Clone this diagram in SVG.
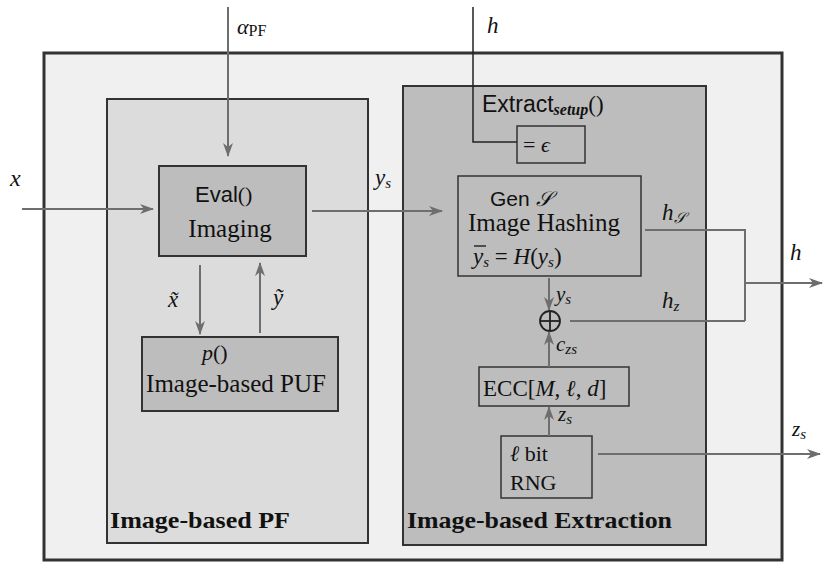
<svg xmlns="http://www.w3.org/2000/svg" width="823" height="562" viewBox="0 0 823 562">
<style>
.box{stroke:#333;stroke-width:2}
.sm{fill:none;stroke:#333;stroke-width:1.5}
.ln{fill:none;stroke:#6e6e6e;stroke-width:2}
.serif{font-family:"Liberation Serif",serif;fill:#111}
.sans{font-family:"Liberation Sans",sans-serif;fill:#111}
.math{font-family:"Liberation Serif",serif;font-style:italic;fill:#111}
.bold{font-family:"Liberation Serif",serif;font-weight:bold;fill:#111}
</style>
<defs>
<marker id="ar" viewBox="0 0 14 10" markerWidth="14" markerHeight="10" refX="13" refY="5" orient="auto" markerUnits="userSpaceOnUse">
<path d="M0,0 L14,5 L0,10 L4,5 z" fill="#6e6e6e"/>
</marker>
</defs>
<rect width="823" height="562" fill="#ffffff"/>
<g id="outer"><rect x="44" y="53" width="738" height="507" fill="#f0f0f0" stroke="#333" stroke-width="3"/></g>
<g id="pf">
<rect class="box" x="107" y="99" width="261" height="444" fill="#dcdcdc"/>
<text class="bold" x="110" y="528" font-size="24" textLength="180" lengthAdjust="spacingAndGlyphs">Image-based PF</text>
</g>
<g id="extraction">
<rect class="box" x="403" y="86" width="303" height="459" fill="#bdbdbd"/>
<text class="sans" x="482" y="112" font-size="23">Extract<tspan class="math" font-size="16" font-weight="bold" dy="3">setup</tspan><tspan class="serif" font-size="23" dy="-3">()</tspan></text>
<text class="bold" x="407" y="528" font-size="24" textLength="265" lengthAdjust="spacingAndGlyphs">Image-based Extraction</text>
</g>
<g id="eval">
<rect class="box" x="159" y="166" width="147" height="90" fill="#bdbdbd"/>
<text class="sans" x="195" y="202" font-size="22">Eval<tspan class="serif">()</tspan></text>
<text class="serif" x="230" y="237" font-size="25" text-anchor="middle">Imaging</text>
</g>
<g id="puf">
<rect class="box" x="142" y="337" width="196" height="74" fill="#bdbdbd"/>
<text class="math" x="202" y="360" font-size="22">p<tspan class="serif" font-style="normal">()</tspan></text>
<text class="serif" x="236" y="392" font-size="25" text-anchor="middle">Image-based PUF</text>
</g>
<g id="eps">
<rect class="sm" x="517" y="126" width="68" height="37" fill="#bdbdbd"/>
<text class="serif" x="523" y="152" font-size="22">= <tspan class="math">ϵ</tspan></text>
</g>
<g id="gen">
<rect class="sm" x="458" y="176" width="183" height="100" fill="#bdbdbd"/>
<text class="sans" x="490" y="206" font-size="21">Gen <tspan class="math" font-family="DejaVu Serif" font-size="21">𝒮</tspan></text>
<text class="serif" x="544" y="231" font-size="25" text-anchor="middle">Image Hashing</text>
<text class="math" x="473" y="264" font-size="23">y<tspan font-size="15" dy="3">s</tspan><tspan class="serif" font-style="normal" dy="-3"> = </tspan>H<tspan class="serif" font-style="normal">(</tspan>y<tspan font-size="15" dy="3">s</tspan><tspan class="serif" font-style="normal" dy="-3">)</tspan></text>
<line x1="474" y1="246" x2="486" y2="246" stroke="#111" stroke-width="1.3"/>
</g>
<g id="xor">
<circle cx="550" cy="321" r="10" fill="none" stroke="#222" stroke-width="1.8"/>
<line x1="540" y1="321" x2="560" y2="321" stroke="#222" stroke-width="1.8"/>
<line x1="550" y1="311" x2="550" y2="331" stroke="#222" stroke-width="1.8"/>
</g>
<g id="ecc">
<rect class="sm" x="479" y="367" width="150" height="39" fill="#bdbdbd"/>
<text class="serif" x="483" y="396" font-size="23">ECC[<tspan class="math">M</tspan>, <tspan class="math">ℓ</tspan>, <tspan class="math">d</tspan>]</text>
</g>
<g id="rng">
<rect class="sm" x="501" y="436" width="91" height="62" fill="#bdbdbd"/>
<text class="serif" x="510" y="461" font-size="22"><tspan class="math">ℓ</tspan> bit</text>
<text class="serif" x="510" y="490" font-size="22">RNG</text>
</g>
<g id="connectors">
<line class="ln" x1="22" y1="209" x2="153" y2="209" marker-end="url(#ar)"/>
<line class="ln" x1="228" y1="7" x2="228" y2="156" marker-end="url(#ar)"/>
<line class="ln" x1="312" y1="211" x2="442" y2="211" stroke-width="3" marker-end="url(#ar)"/>
<line class="ln" x1="200" y1="265" x2="200" y2="334" stroke-width="3" marker-end="url(#ar)"/>
<line class="ln" x1="260" y1="333" x2="260" y2="263" marker-end="url(#ar)"/>
<path d="M473,7 V142 H517" fill="none" stroke="#222" stroke-width="1.5"/>
<line class="ln" x1="549" y1="278" x2="549" y2="310" marker-end="url(#ar)"/>
<line class="ln" x1="549" y1="367" x2="549" y2="332" marker-end="url(#ar)"/>
<line class="ln" x1="549" y1="436" x2="549" y2="407" marker-end="url(#ar)"/>
<path class="ln" d="M645,230 H745 V321"/>
<path class="ln" d="M570,321 H745"/>
<line class="ln" x1="745" y1="283" x2="822" y2="283" marker-end="url(#ar)"/>
<line class="ln" x1="598" y1="454" x2="820" y2="454" marker-end="url(#ar)"/>
</g>
<g id="labels">
<text class="math" x="10" y="186" font-size="24">x</text>
<text class="math" x="237" y="34" font-size="22">α<tspan class="serif" font-style="normal" font-size="16" dy="2">PF</tspan></text>
<text class="math" x="375" y="185" font-size="23">y<tspan font-size="15" dy="3">s</tspan></text>
<text class="math" x="487" y="33" font-size="23">h</text>
<text class="math" x="168" y="307" font-size="23">x̃</text>
<text class="math" x="273" y="305" font-size="23">ỹ</text>
<text class="math" x="662" y="220" font-size="23">h<tspan font-family="DejaVu Serif" font-size="15" dy="3">𝒮</tspan></text>
<text class="math" x="790" y="260" font-size="23">h</text>
<text class="math" x="556" y="301" font-size="21">y<tspan font-size="15" dy="3">s</tspan></text>
<text class="math" x="662" y="308" font-size="23">h<tspan font-size="15" dy="3">z</tspan></text>
<text class="math" x="556" y="351" font-size="21">c<tspan font-size="15" dy="3">zs</tspan></text>
<text class="math" x="558" y="421" font-size="21">z<tspan font-size="15" dy="3">s</tspan></text>
<text class="math" x="792" y="436" font-size="21">z<tspan font-size="15" dy="3">s</tspan></text>
</g>
</svg>
